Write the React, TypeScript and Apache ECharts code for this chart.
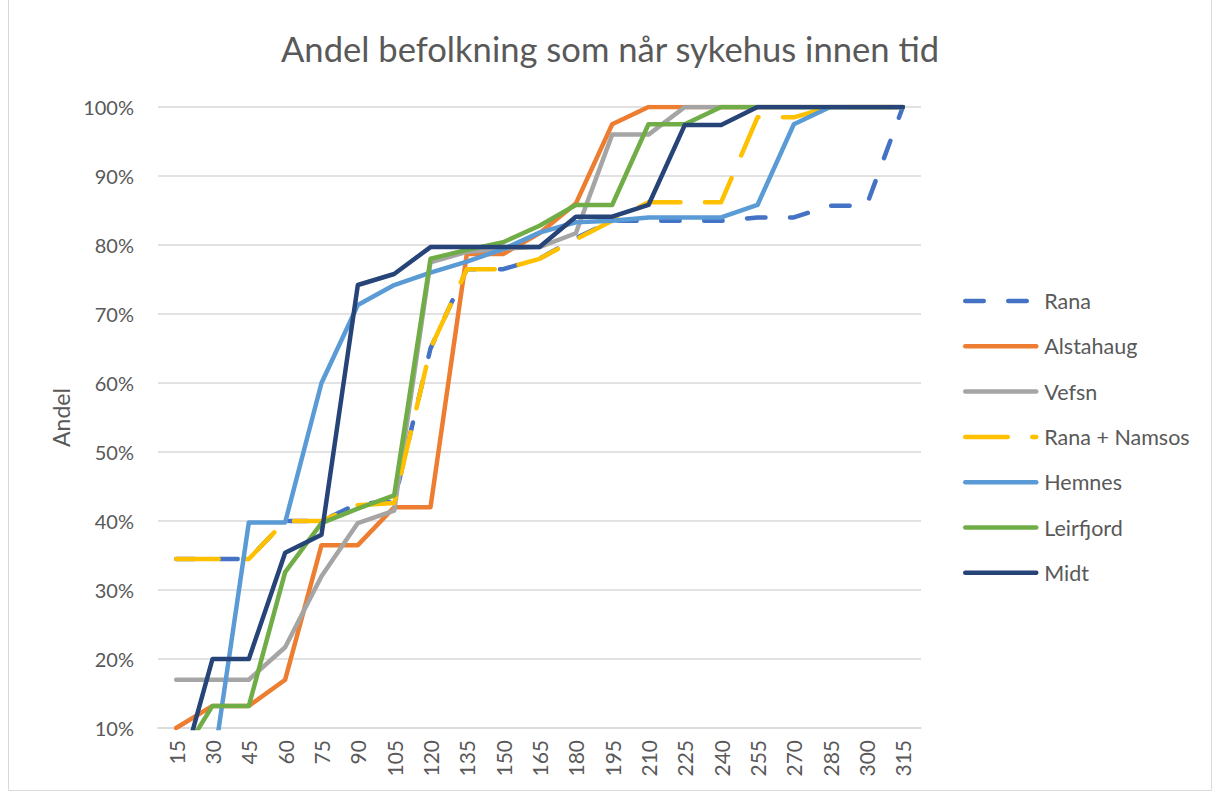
import React, { useEffect, useRef } from "react";
import * as echarts from "echarts";

const categories = ["15", "30", "45", "60", "75", "90", "105", "120", "135", "150", "165", "180", "195", "210", "225", "240", "255", "270", "285", "300", "315"];

const rana = [34.5, 34.5, 34.5, 40, 40, 42.5, 42.8, 65, 76.5, 76.5, 78, 81, 83.5, 83.5, 83.5, 83.5, 84, 84, 85.7, 85.7, 100];
const alstahaug = [10, 13.2, 13.2, 17, 36.5, 36.5, 42, 42, 78.7, 78.7, 81.7, 86, 97.5, 100, 100, 100, 100, 100, 100, 100, 100];
const vefsn = [17, 17, 17, 21.7, 32, 39.7, 41.5, 77.5, 79, 79.5, 79.7, 81.7, 96, 96, 100, 100, 100, 100, 100, 100, 100];
const ranaNamsos = [34.5, 34.5, 34.5, 40, 40, 42.3, 42.6, 65, 76.5, 76.5, 78, 80.8, 83.5, 86.2, 86.2, 86.2, 98.5, 98.5, 100, 100, 100];
const hemnes = [2, 3.8, 39.8, 39.8, 60, 71.3, 74.2, 76, 77.6, 79.4, 81.8, 83.3, 83.5, 84, 84, 84, 85.8, 97.5, 100, 100, 100];
const leirfjord = [4.7, 13.2, 13.2, 32.6, 39.7, 41.8, 43.7, 78, 79.3, 80.4, 82.8, 85.8, 85.8, 97.5, 97.5, 100, 100, 100, 100, 100, 100];
const midt = [1, 20, 20, 35.4, 38, 74.2, 75.8, 79.7, 79.7, 79.7, 79.7, 84.1, 84.1, 85.8, 97.4, 97.4, 100, 100, 100, 100, 100];

const seriesNames = ["Rana", "Alstahaug", "Vefsn", "Rana + Namsos", "Hemnes", "Leirfjord", "Midt"];
const seriesData = [rana, alstahaug, vefsn, ranaNamsos, hemnes, leirfjord, midt];
const seriesColors = ["#4472C4", "#ED7D31", "#A5A5A5", "#FFC000", "#5B9BD5", "#70AD47", "#264478"];
const seriesDash: (number[] | "solid")[] = [[18.5, 24.5], "solid", "solid", [42.5, 24.5], "solid", "solid", "solid"];

const FONT = "Lato";
const TEXT = "#595959";

export default function App() {
  const ref = useRef<HTMLDivElement>(null);
  useEffect(() => {
    const chart = echarts.init(ref.current!, null, { renderer: "svg" });
    chart.setOption({
      animation: false,
      backgroundColor: "#ffffff",
      title: {
        text: "Andel befolkning som når sykehus innen tid",
        left: 281,
        top: 31,
        padding: 0,
        textStyle: { fontFamily: FONT, fontSize: 34.6, fontWeight: "normal", color: TEXT },
      },
      graphic: [
        {
          type: "rect",
          shape: { x: 8.5, y: -2, width: 1203, height: 792.5 },
          style: { fill: "none", stroke: "#D9D9D9", lineWidth: 1 },
          silent: true,
          z: -1,
        },
      ],
      legend: {
        orient: "vertical",
        left: 963,
        top: 290,
        padding: 0,
        itemWidth: 71,
        itemHeight: 14,
        itemGap: 23.3,
        data: seriesNames,
        itemStyle: { opacity: 0 },
        lineStyle: { width: 4.5, cap: "round" },
        textStyle: { fontFamily: FONT, fontSize: 21.5, color: TEXT, lineHeight: 22, padding: [0, 0, 0, 3] },
      },
      grid: { left: 158, right: 292, top: 107, bottom: 66, containLabel: false },
      xAxis: {
        type: "category",
        data: categories,
        boundaryGap: true,
        axisLine: { show: true, lineStyle: { color: "#D9D9D9", width: 1.5 } },
        axisTick: { show: false },
        axisLabel: { rotate: 90, fontFamily: FONT, fontSize: 21, color: TEXT, margin: 12 },
      },
      yAxis: {
        type: "value",
        min: 10,
        max: 100,
        interval: 10,
        name: "Andel",
        nameLocation: "middle",
        nameGap: 86,
        nameTextStyle: { fontFamily: FONT, fontSize: 23, color: TEXT },
        axisLine: { show: false },
        axisTick: { show: false },
        splitLine: { lineStyle: { color: "#D9D9D9", width: 1.5 } },
        axisLabel: { formatter: "{value}%", fontFamily: FONT, fontSize: 20, color: TEXT, margin: 24 },
      },
      series: seriesNames.map((name, i) => ({
        name,
        type: "line",
        data: seriesData[i],
        symbol: "none",
        clip: true,
        color: seriesColors[i],
        lineStyle: { color: seriesColors[i], width: 4.5, type: seriesDash[i], cap: "round", join: "round" },
      })),
    });
    return () => chart.dispose();
  }, []);
  return (
    <div
      ref={ref}
      style={{ position: "absolute", left: 0, top: 0, width: 1213, height: 794, background: "#ffffff" }}
    />
  );
}
